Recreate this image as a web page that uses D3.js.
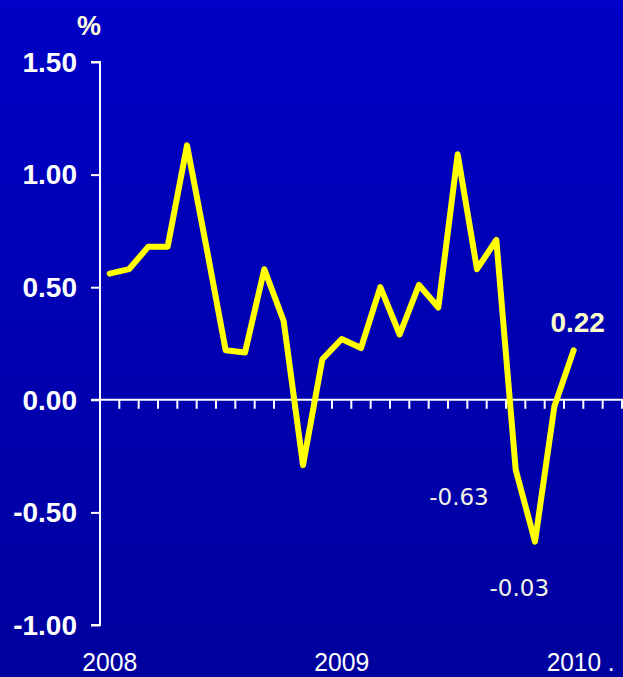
<!DOCTYPE html>
<html>
<head>
<meta charset="utf-8">
<script src="https://cdn.jsdelivr.net/npm/d3@7"></script>
<style>
  html, body { margin: 0; padding: 0; background: #0000b4; }
  svg { display: block; }
</style>
</head>
<body>
<svg id="chart" width="623" height="677"></svg>
<script>
// ---- data ----
const months = [
  "2008-01","2008-02","2008-03","2008-04","2008-05","2008-06","2008-07","2008-08","2008-09","2008-10","2008-11","2008-12",
  "2009-01","2009-02","2009-03","2009-04","2009-05","2009-06","2009-07","2009-08","2009-09","2009-10","2009-11","2009-12",
  "2010-01","2010-02","2010-03"
];
const values = [0.56,0.58,0.68,0.68,1.13,0.68,0.22,0.21,0.58,0.35,-0.29,0.18,
                0.27,0.23,0.50,0.29,0.51,0.41,1.09,0.58,0.71,-0.31,-0.63,-0.03,
                0.22];
const yTicks = [1.5, 1.0, 0.5, 0, -0.5, -1.0];
const yearMonths = ["2008-01","2009-01","2010-01"];
const yearLabels = ["2008","2009","2010 ."];
const unitLabel = "%";
const annotationTexts = ["0.22","-0.63","-0.03"];
const annotationIndex = [24, 22, 23];

// ---- layout ----
const W = 623, H = 677;
const svg = d3.select("#chart");

const defs = svg.append("defs");
const grad = defs.append("linearGradient").attr("id","bg").attr("x1",0).attr("y1",0).attr("x2",0).attr("y2",1);
grad.append("stop").attr("offset","0%").attr("stop-color","#0000c6");
grad.append("stop").attr("offset","100%").attr("stop-color","#00009e");
svg.append("rect").attr("width",W).attr("height",H).attr("fill","url(#bg)");

const x = d3.scaleBand().domain(months).range([100, 622]).paddingInner(0).paddingOuter(0);
const y = d3.scaleLinear().domain([-1, 1.5]).range([625, 62]);
const cx = m => x(m) + x.bandwidth() / 2;

// Y axis
const yAxis = d3.axisLeft(y).tickValues(yTicks).tickSize(9).tickPadding(14)
  .tickFormat(d3.format(".2f"));
const gy = svg.append("g").attr("transform","translate(100,0)").call(yAxis);
gy.select(".domain").attr("stroke","#fff").attr("stroke-width",2).attr("d", `M-9,${y(1.5)}H0V${y(-1)}H-9`);
gy.selectAll(".tick line").attr("stroke","#fff").attr("stroke-width",2);
gy.selectAll(".tick text")
  .attr("fill","#fff")
  .attr("font-family","'Liberation Sans', Arial, sans-serif")
  .attr("font-weight","bold")
  .attr("font-size", 28)
  .attr("dy","0.33em")
  .text(d => d.toFixed(2));

// X axis at zero
const xAxis = d3.axisBottom(x).tickValues(months).tickSize(9).tickFormat("");
const gx = svg.append("g").attr("transform",`translate(0,${y(0)})`).call(xAxis);
gx.select(".domain").attr("stroke","#fff").attr("stroke-width",2).attr("d","M91,0H623");
gx.selectAll(".tick").attr("transform", d => `translate(${x(d) + x.bandwidth()},0)`);
gx.selectAll(".tick line").attr("stroke","#fff").attr("stroke-width",2);

// Year labels
svg.append("g").selectAll("text").data(yearMonths).join("text")
  .attr("x", (m,i) => i === 2 ? cx(m) - 27 : cx(m))
  .attr("y", 671)
  .attr("text-anchor", (m,i) => i === 2 ? "start" : "middle")
  .attr("fill","#fff")
  .attr("font-family","'Liberation Sans', Arial, sans-serif")
  .attr("font-size", 26)
  .attr("textLength", (m,i) => i === 2 ? 68 : 55)
  .attr("lengthAdjust","spacingAndGlyphs")
  .text((m,i) => yearLabels[i]);

// Unit label
svg.append("text").attr("x",89).attr("y",35).attr("text-anchor","middle")
  .attr("fill","#ffffdd").attr("font-family","'Liberation Sans', Arial, sans-serif")
  .attr("font-weight","bold").attr("font-size",27).text(unitLabel);

// Line
const line = d3.line().x((d,i) => cx(months[i])).y(d => y(d));
svg.append("path").datum(values)
  .attr("d", line)
  .attr("fill","none")
  .attr("stroke","#ffff00")
  .attr("stroke-width",6)
  .attr("stroke-linejoin","round")
  .attr("stroke-linecap","round");

// Annotations
const annOffsets = [[4,-18],[-76,-37],[-35,189]];
annotationTexts.forEach((t,k) => {
  const i = annotationIndex[k];
  const px = cx(months[i]), py = y(values[i]);
  const bold = k === 0;
  svg.append("text")
    .attr("x", px + annOffsets[k][0])
    .attr("y", py + annOffsets[k][1])
    .attr("text-anchor","middle")
    .attr("fill", bold ? "#ffffcc" : "#f4f4e6")
    .attr("font-family", bold ? "'Liberation Sans', Arial, sans-serif" : "'DejaVu Sans', Verdana, sans-serif")
    .attr("font-weight", bold ? "bold" : "normal")
    .attr("font-size", bold ? 28 : 23)
    .text(t);
});
</script>
</body>
</html>
